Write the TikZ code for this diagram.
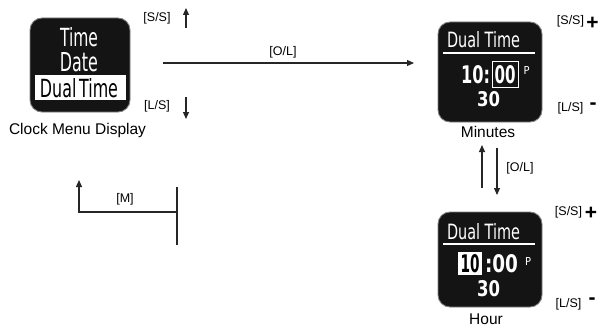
\documentclass[tikz,border=0pt]{standalone}
\usepackage{fontspec}
\setmainfont{Liberation Sans}
\newfontfamily\lcdfont{DejaVu Sans}
\newfontfamily\lcddigits{DejaVu Sans}[BoldFont=* Bold]
\usetikzlibrary{arrows.meta}
\newcommand\lcdtxt[3]{\resizebox{#1pt}{#2pt}{\lcdfont #3}}
\newcommand\lcdnum[3]{\resizebox{#1pt}{#2pt}{\lcddigits\bfseries #3}}
\begin{document}
\begin{tikzpicture}[x=1pt,y=-1pt,
  screen/.style={draw=black!50, line width=0.9pt, fill=black!92, rounded corners=12pt, inner sep=0pt},
  lcd/.style={inner sep=0pt, text=white},
  caption/.style={inner sep=0pt, font=\fontsize{15.5}{17}\selectfont},
  key/.style={inner sep=0pt, font=\fontsize{12.5}{14}\selectfont},
  sign/.style={inner sep=0pt, font=\fontsize{21}{22}\selectfont\bfseries},
  conn/.style={draw=black!85, line width=1.2pt},
  arr/.style={conn, -{Triangle[length=7pt,width=6pt]}}
]
\useasboundingbox (0,0) rectangle (605,329);

% ---- Clock menu display ----
\node[screen, minimum width=100pt, minimum height=94pt] (menu) at (80,65) {};
\node[lcd] (mtime) at (79,37.5) {\lcdtxt{38}{19}{Time}};
\node[lcd] (mdate) at (79,62) {\lcdtxt{38}{19}{Date}};
\node[fill=white, minimum width=91pt, minimum height=25pt, inner sep=0pt] (mband) at (80.5,87.5) {};
\node[inner sep=0pt, text=black] (mdual) at (79,88.5) {\lcdtxt{78}{19}{Dual\,Time}};
\node[caption] (mcap) at (77.5,130.5) {Clock Menu Display};

% left keys
\node[key] (lss) at (157,18) {[S/S]};
\node[key] (lls) at (157,106) {[L/S]};
\coordinate (ssbot) at (186,28);
\coordinate (sstop) at (186,8);
\coordinate (lstop) at (186,97);
\coordinate (lsbot) at (186,119);
\draw[arr] (ssbot) -- (sstop);
\draw[arr] (lstop) -- (lsbot);

% O/L horizontal
\coordinate (olstart) at (163,63);
\coordinate (olend) at (414,63);
\draw[arr] (olstart) -- (olend);
\node[key] (ol1) at (283,52) {[O/L]};

% M connector
\coordinate (mbartop) at (177,187);
\coordinate (mbarbot) at (177,245);
\coordinate (mjoin) at (177,212);
\coordinate (mtip) at (79,180);
\draw[conn] (mbartop) -- (mbarbot);
\draw[arr] (mjoin) -| (mtip);
\node[key] (mkey) at (125,199) {[M]};

% ---- Minutes screen ----
\node[screen, minimum width=104pt, minimum height=100pt] (mins) at (490,72) {};
\node[lcd] (mindual) at (483.5,40) {\lcdtxt{73}{16}{Dual Time}};
\coordinate (minulA) at (443,53);
\coordinate (minulB) at (535,53);
\draw[white, line width=1.5pt] (minulA) -- (minulB);
\node[lcd] (minten) at (475.5,74.5) {\lcdnum{29}{18}{10:}};
\node[draw=white, line width=1pt, minimum width=26pt, minimum height=25pt, inner sep=0pt] (minbox) at (505,74.5) {};
\node[lcd] (minzero) at (505,74.5) {\lcdnum{21}{18}{00}};
\node[lcd] (minp) at (526.5,71) {\lcdtxt{6}{8}{P}};
\node[lcd] (minthirty) at (488.5,99.5) {\lcdnum{23}{15}{30}};
\node[caption] (mincap) at (488,132) {Minutes};

\node[key] (rss1) at (570.5,21) {[S/S]};
\node[sign] (plus1) at (592.5,23) {+};
\node[key] (rls1) at (570.5,108) {[L/S]};
\node[sign] (minus1) at (593,106) {-};

% vertical O/L
\coordinate (upbot) at (482,188);
\coordinate (uptop) at (482,145);
\coordinate (dntop) at (497,148);
\coordinate (dnbot) at (497,195);
\draw[arr] (upbot) -- (uptop);
\draw[arr] (dntop) -- (dnbot);
\node[key] (ol2) at (520,168) {[O/L]};

% ---- Hour screen ----
\node[screen, minimum width=104pt, minimum height=95pt] (hour) at (490,259.5) {};
\node[lcd] (hrdual) at (483.5,231.5) {\lcdtxt{73}{16}{Dual Time}};
\coordinate (hrulA) at (443,244);
\coordinate (hrulB) at (535,244);
\draw[white, line width=1.5pt] (hrulA) -- (hrulB);
\node[fill=white, minimum width=24pt, minimum height=23pt, inner sep=0pt] (hrbox) at (470,263.5) {};
\node[inner sep=0pt, text=black] (hrten) at (470,263.5) {\lcdnum{19}{18}{10}};
\node[lcd] (hrzero) at (501.5,263.5) {\lcdnum{33}{18}{:00}};
\node[lcd] (hrp) at (528,261) {\lcdtxt{6}{8}{P}};
\node[lcd] (hrthirty) at (488.5,288.5) {\lcdnum{23}{16}{30}};
\node[caption] (hrcap) at (486,319.5) {Hour};

\node[key] (rss2) at (568.5,212) {[S/S]};
\node[sign] (plus2) at (591,213) {+};
\node[key] (rls2) at (568.5,304) {[L/S]};
\node[sign] (minus2) at (592,301) {-};
\end{tikzpicture}
\end{document}
